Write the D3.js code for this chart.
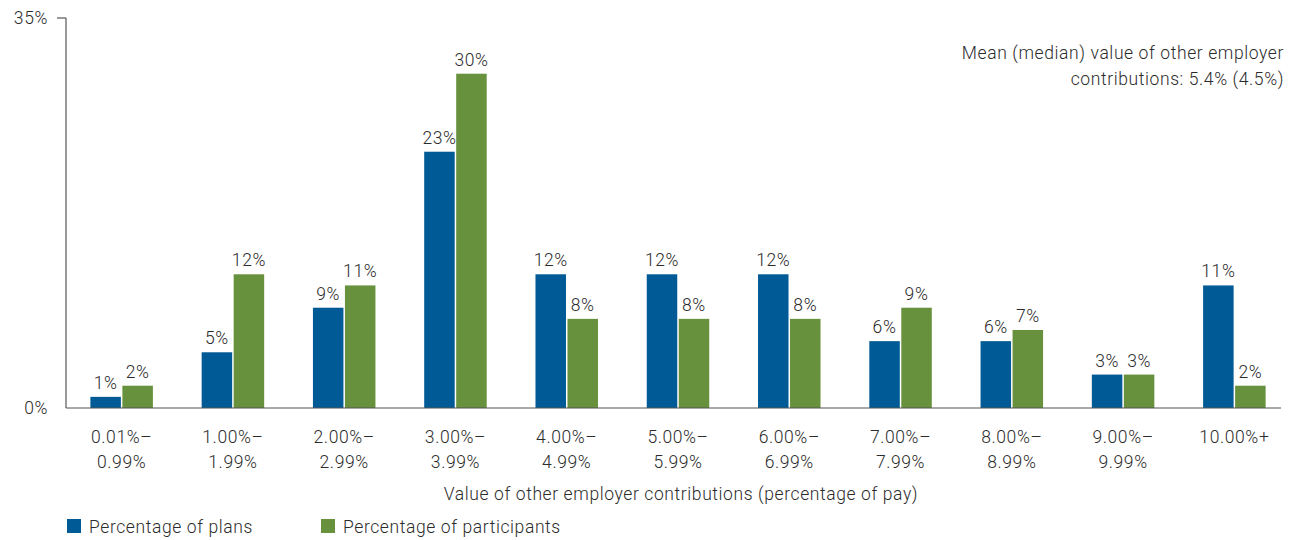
<!DOCTYPE html>
<html>
<head>
<meta charset="utf-8">
<script src="https://cdn.jsdelivr.net/npm/d3@7"></script>
<style>
  html, body { margin: 0; padding: 0; background: #fff; }
  svg text { font-family: Roboto, "Liberation Sans", sans-serif; font-weight: 300; fill: #2b2b2b; letter-spacing: 0.6px; }
</style>
</head>
<body>
<svg id="chart" width="1295" height="540"></svg>
<script>
// Contribution brackets (two-line tick labels)
const categories = [
  ["0.01%–", "0.99%"],
  ["1.00%–", "1.99%"],
  ["2.00%–", "2.99%"],
  ["3.00%–", "3.99%"],
  ["4.00%–", "4.99%"],
  ["5.00%–", "5.99%"],
  ["6.00%–", "6.99%"],
  ["7.00%–", "7.99%"],
  ["8.00%–", "8.99%"],
  ["9.00%–", "9.99%"],
  ["10.00%+"]
];
const plans = [1, 5, 9, 23, 12, 12, 12, 6, 6, 3, 11];
const participants = [2, 12, 11, 30, 8, 8, 8, 9, 7, 3, 2];
const seriesNames = ["Percentage of plans", "Percentage of participants"];
const seriesColors = ["#005a96", "#67913c"];
const yTicks = [0, 35];
const note = ["Mean (median) value of other employer", "contributions: 5.4% (4.5%)"];
const xTitle = "Value of other employer contributions (percentage of pay)";

const svg = d3.select("#chart");
const plotLeft = 66, plotRight = 1290, plotTop = 18, plotBottom = 408;
const fs = 17.5;

const x = d3.scaleBand().domain(d3.range(categories.length)).range([plotLeft, plotRight]).padding(0);
const y = d3.scaleLinear().domain([0, 35]).range([plotBottom, plotTop]);

const barW = 30.5, gap = 1.5;
const sub = d3.scaleOrdinal().domain([0, 1]).range([-(barW + gap / 2), gap / 2]);

// y axis line and ticks
svg.append("line").attr("x1", plotLeft).attr("x2", plotLeft).attr("y1", y(35)).attr("y2", y(0))
  .attr("stroke", "#555").attr("stroke-width", 1.2);
svg.append("line").attr("x1", plotLeft - 9).attr("x2", plotLeft).attr("y1", y(35)).attr("y2", y(35))
  .attr("stroke", "#555").attr("stroke-width", 1.2);
svg.selectAll(".ytick").data(yTicks).enter().append("text")
  .attr("x", 48).attr("y", d => y(d)).attr("dy", "0.35em").attr("text-anchor", "end")
  .attr("font-size", fs).text(d => d + "%");

// bars
const series = [plans, participants];
series.forEach((vals, si) => {
  svg.append("g").selectAll("rect").data(vals).enter().append("rect")
    .attr("x", (d, i) => x(i) + x.bandwidth() / 2 + sub(si))
    .attr("width", barW)
    .attr("y", d => y(d))
    .attr("height", d => y(0) - y(d))
    .attr("fill", seriesColors[si]);
  svg.append("g").selectAll("text").data(vals).enter().append("text")
    .attr("x", (d, i) => x(i) + x.bandwidth() / 2 + sub(si) + barW / 2)
    .attr("y", d => y(d) - 8)
    .attr("text-anchor", "middle").attr("font-size", fs)
    .text(d => d + "%");
});

// baseline
svg.append("line").attr("x1", plotLeft).attr("x2", 1281).attr("y1", y(0)).attr("y2", y(0))
  .attr("stroke", "#555").attr("stroke-width", 1.2);

// category labels
const cl = svg.append("g").selectAll("text").data(categories).enter().append("text")
  .attr("x", (d, i) => x(i) + x.bandwidth() / 2)
  .attr("y", 443).attr("text-anchor", "middle").attr("font-size", fs);
cl.selectAll("tspan").data(d => d).enter().append("tspan")
  .attr("x", function () { return d3.select(this.parentNode).attr("x"); })
  .attr("dy", (d, i) => i === 0 ? 0 : 25)
  .text(d => d);

// axis title
svg.append("text").attr("x", 681).attr("y", 500).attr("text-anchor", "middle")
  .attr("font-size", fs).text(xTitle);

// note
svg.append("text").attr("x", 1284).attr("y", 59).attr("text-anchor", "end")
  .attr("font-size", fs)
  .selectAll("tspan").data(note).enter().append("tspan")
  .attr("x", 1284).attr("dy", (d, i) => i === 0 ? 0 : 26).text(d => d);

// legend
const legendX = [67, 321];
seriesNames.forEach((name, i) => {
  svg.append("rect").attr("x", legendX[i]).attr("y", 519).attr("width", 14).attr("height", 14)
    .attr("fill", seriesColors[i]);
  svg.append("text").attr("x", legendX[i] + 22).attr("y", 533).attr("font-size", fs).text(name);
});
</script>
</body>
</html>
